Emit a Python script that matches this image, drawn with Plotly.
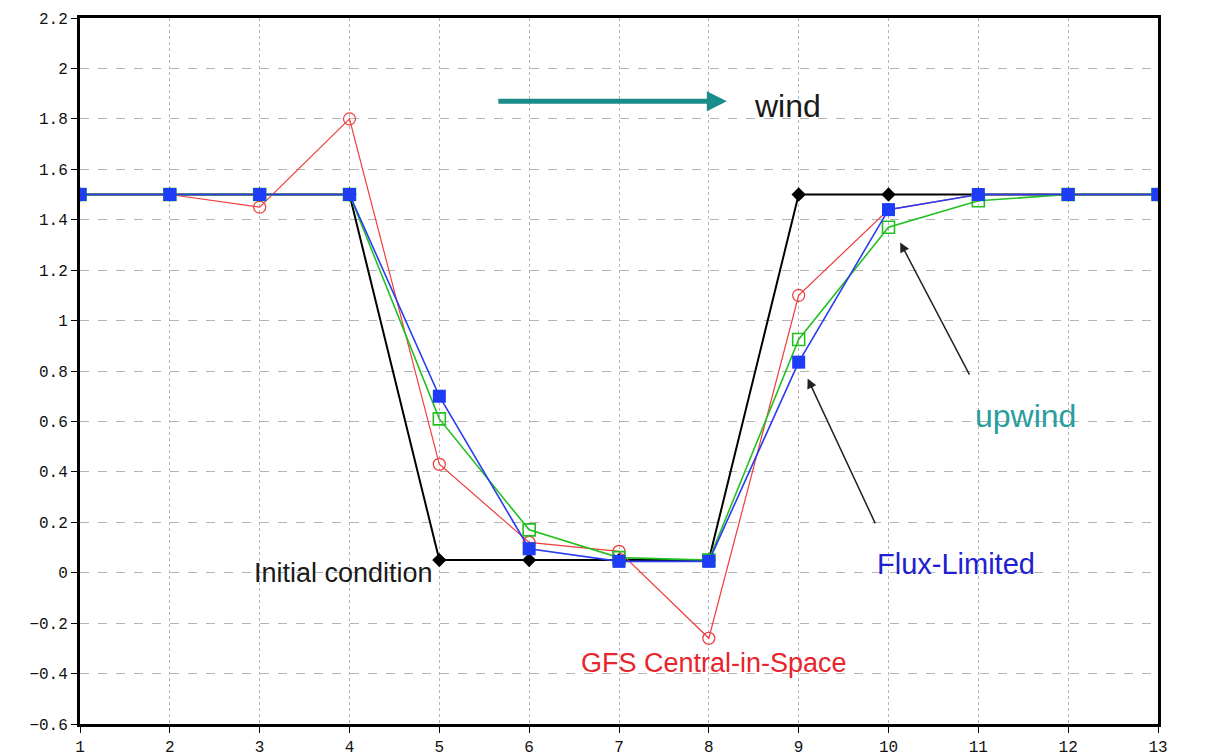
import plotly.graph_objects as go

x_points = [1, 2, 3, 4, 5, 6, 7, 8, 9, 10, 11, 12, 13]
initial_condition = [1.5, 1.5, 1.5, 1.5, 0.05, 0.05, 0.05, 0.05, 1.5, 1.5, 1.5, 1.5, 1.5]
gfs_central = [1.5, 1.5, 1.45, 1.8, 0.43, 0.12, 0.085, -0.26, 1.1, 1.44, 1.5, 1.5, 1.5]
upwind = [1.5, 1.5, 1.5, 1.5, 0.61, 0.17, 0.06, 0.05, 0.925, 1.37, 1.475, 1.5, 1.5]
flux_limited = [1.5, 1.5, 1.5, 1.5, 0.70, 0.095, 0.045, 0.045, 0.835, 1.44, 1.5, 1.5, 1.5]

x_ticks = list(range(1, 14))
y_ticks = [-0.6, -0.4, -0.2, 0, 0.2, 0.4, 0.6, 0.8, 1, 1.2, 1.4, 1.6, 1.8, 2, 2.2]
y_tick_labels = ["\u22120.6", "\u22120.4", "\u22120.2", "0", "0.2", "0.4", "0.6", "0.8",
                 "1", "1.2", "1.4", "1.6", "1.8", "2", "2.2"]

fig = go.Figure()
fig.add_trace(go.Scatter(x=x_points, y=initial_condition, mode="lines+markers",
                         line=dict(color="black", width=2),
                         marker=dict(symbol="diamond", size=11, color="black"),
                         name="Initial condition"))
fig.add_trace(go.Scatter(x=x_points, y=gfs_central, mode="lines+markers",
                         line=dict(color="#f03c3c", width=1.2),
                         marker=dict(symbol="circle-open", size=12, color="#f03c3c",
                                     line=dict(width=1.2)),
                         name="GFS Central-in-Space"))
fig.add_trace(go.Scatter(x=x_points, y=upwind, mode="lines+markers",
                         line=dict(color="#22c022", width=1.6),
                         marker=dict(symbol="square-open", size=12, color="#22c022",
                                     line=dict(width=1.6)),
                         name="upwind"))
fig.add_trace(go.Scatter(x=x_points, y=flux_limited, mode="lines+markers",
                         line=dict(color="#2a3cf0", width=1.6),
                         marker=dict(symbol="square", size=13, color="#1e3cf5"),
                         name="Flux-Limited"))

annotations = [
    dict(x=8.20, y=1.87, ax=5.64, ay=1.87, axref="x", ayref="y", xref="x", yref="y",
         text="", showarrow=True, arrowhead=2, arrowsize=0.8, arrowwidth=5,
         arrowcolor="#1b8c8c", standoff=0),
    dict(x=8.48, y=1.85, xref="x", yref="y", text="wind", showarrow=False,
         xanchor="left", yanchor="middle",
         font=dict(family="Liberation Sans, Arial", size=32, color="#1a1a1a")),
    dict(x=4.95, y=0.0, xref="x", yref="y", text="Initial condition", showarrow=False,
         xanchor="right", yanchor="middle",
         font=dict(family="Liberation Sans, Arial", size=27, color="#1a1a1a")),
    dict(x=6.56, y=-0.36, xref="x", yref="y", text="GFS Central-in-Space", showarrow=False,
         xanchor="left", yanchor="middle",
         font=dict(family="Liberation Sans, Arial", size=27, color="#e8242c")),
    dict(x=10.94, y=0.62, xref="x", yref="y", text="upwind", showarrow=False,
         xanchor="left", yanchor="middle",
         font=dict(family="Liberation Sans, Arial", size=32, color="#2a9d9d")),
    dict(x=9.85, y=0.035, xref="x", yref="y", text="Flux-Limited", showarrow=False,
         xanchor="left", yanchor="middle",
         font=dict(family="Liberation Sans, Arial", size=29, color="#2020d0")),
    dict(x=10.13, y=1.31, ax=10.91, ay=0.78, axref="x", ayref="y", xref="x", yref="y",
         text="", showarrow=True, arrowhead=2, arrowsize=1.3, arrowwidth=1.5,
         arrowcolor="#222222", standoff=0),
    dict(x=9.10, y=0.77, ax=9.86, ay=0.19, axref="x", ayref="y", xref="x", yref="y",
         text="", showarrow=True, arrowhead=2, arrowsize=1.3, arrowwidth=1.5,
         arrowcolor="#222222", standoff=0),
]

tick_font = dict(family="Liberation Mono, DejaVu Sans Mono", size=16, color="#111111")

fig.update_layout(
    width=1220, height=756,
    margin=dict(l=72, r=70, t=10, b=40),
    paper_bgcolor="white", plot_bgcolor="white",
    showlegend=False,
    annotations=annotations,
    font=dict(family="Liberation Mono, DejaVu Sans Mono", size=16, color="#111111"),
)
fig.update_xaxes(range=[1, 13], tickvals=x_ticks, ticktext=[str(v) for v in x_ticks],
                 showgrid=True, gridcolor="#b4b4b4", griddash="dot", gridwidth=1,
                 showline=True, linecolor="black", linewidth=3, mirror=True,
                 ticks="outside", ticklen=6, tickcolor="black", zeroline=False,
                 automargin=False, tickfont=tick_font)
fig.update_yaxes(range=[-0.6, 2.2], tickvals=y_ticks, ticktext=y_tick_labels,
                 showgrid=True, gridcolor="#b4b4b4", griddash="dash", gridwidth=1,
                 showline=True, linecolor="black", linewidth=3, mirror=True,
                 ticks="outside", ticklen=6, tickcolor="black", zeroline=False,
                 automargin=False, tickfont=tick_font)

fig.write_html("out.html")
